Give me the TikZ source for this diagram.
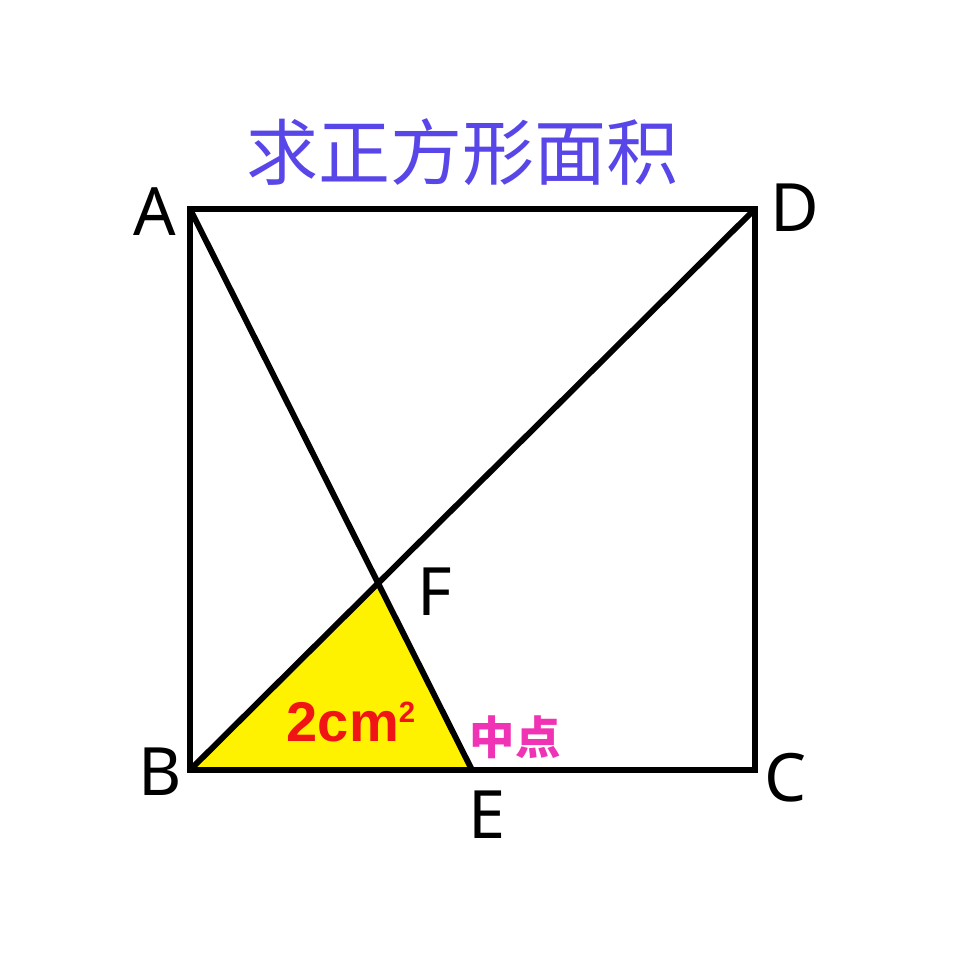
\documentclass[tikz,border=0pt]{standalone}
\usepackage{fontspec}
\setmainfont{Noto Sans}
\newfontfamily\cjk{Noto Sans CJK SC}
\newfontfamily\areafont{Liberation Sans}[BoldFont={* Bold}]
\begin{document}
\begin{tikzpicture}[x=0.75pt,y=-0.75pt,
  edge/.style={line width=4.4pt,line join=miter,line cap=round},
  ptlabel/.style={font=\fontsize{50}{50}\selectfont,text=black,inner sep=0pt}]
\useasboundingbox[fill=white] (0,0) rectangle (962,969);
\coordinate (A) at (190,209);
\coordinate (D) at (755,209);
\coordinate (B) at (190,770);
\coordinate (C) at (755,770);
\coordinate (E) at (472,770);
\coordinate (F) at (378,583);
\fill[yellow] (B) -- (F) -- (E) -- cycle;
\draw[edge] (A) -- (D) -- (C) -- (B) -- cycle;
\draw[edge] (A) -- (E);
\draw[edge] (B) -- (D);
\node[font=\cjk\fontsize{54}{54}\selectfont,text={rgb,255:red,88;green,70;blue,232},inner sep=0pt] (title) at (462,152) {求正方形面积};
\node[ptlabel] (lA) at (155,212) {A};
\node[ptlabel] (lD) at (795,208) {D};
\node[ptlabel] (lB) at (160,772) {B};
\node[ptlabel] (lC) at (786,778) {C};
\node[ptlabel] (lE) at (487,815) {E};
\node[ptlabel] (lF) at (435,592) {F};
\node[font=\areafont\bfseries\fontsize{42}{42}\selectfont,text={rgb,255:red,240;green,20;blue,20},inner sep=0pt] (area) at (351,722) {2cm\raisebox{0.62ex}{\fontsize{22}{22}\selectfont 2}};
\node[font=\cjk\bfseries\fontsize{34}{34}\selectfont,text={rgb,255:red,240;green,50;blue,180},inner sep=0pt] (mid) at (515,737) {中点};
\end{tikzpicture}
\end{document}
